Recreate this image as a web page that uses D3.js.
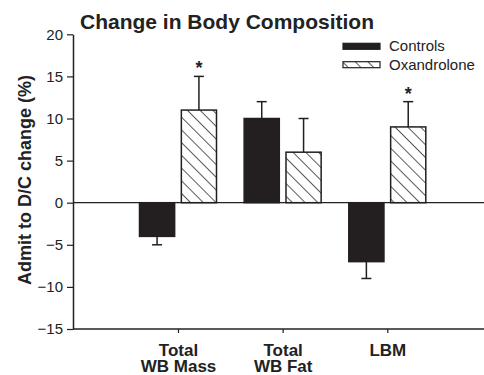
<!DOCTYPE html>
<html>
<head>
<meta charset="utf-8">
<script src="https://cdn.jsdelivr.net/npm/d3@7"></script>
<style>
  body { margin: 0; background: #fff; }
  svg { font-family: "Liberation Sans", Arial, sans-serif; }
</style>
</head>
<body>
<div id="chart"></div>
<script>
"use strict";

// data
const categories = ["Total WB Mass", "Total WB Fat", "LBM"];
const series = ["Controls", "Oxandrolone"];
const controls = [-4, 10, -7];
const controlsErr = [1, 2, 2];
const oxandrolone = [11, 6, 9];
const oxandroloneErr = [4, 4, 3];
const significant = [false, true, false, false, false, true]; // per bar, category-major
const yTicks = [-15, -10, -5, 0, 5, 10, 15, 20];

const width = 484, height = 375;
const fontFamily = "'Liberation Sans', Arial, sans-serif";

const svg = d3.select("#chart").append("svg")
  .attr("width", width)
  .attr("height", height);

// hatch pattern for Oxandrolone bars
let defs = svg.append("defs");
let pat = defs.append("pattern")
  .attr("id", "hatch")
  .attr("patternUnits", "userSpaceOnUse")
  .attr("width", 9)
  .attr("height", 9)
  .attr("patternTransform", "rotate(-45)");
pat.append("rect").attr("width", 9).attr("height", 9).attr("fill", "#fff");
pat.append("line")
  .attr("x1", 0).attr("y1", 0).attr("x2", 0).attr("y2", 9)
  .attr("stroke", "#222").attr("stroke-width", 1.5);

let y = d3.scaleLinear().domain([-15, 20]).range([329, 34.3]);
let x = d3.scalePoint().domain(categories).range([178, 387.3]);
let xSub = d3.scaleBand().domain(series).range([-38.5, 38.5]).paddingInner(0.16);

let left = 73;

// y axis
let yAxis = svg.append("g")
  .attr("transform", "translate(" + left + ",0)")
  .call(d3.axisLeft(y).tickValues(yTicks).tickSize(6).tickPadding(4).tickSizeOuter(0))
  .attr("font-family", fontFamily)
  .attr("font-size", 15);
yAxis.select(".domain").attr("stroke", "#222").attr("stroke-width", 1.5);
yAxis.selectAll(".tick line").attr("stroke", "#222").attr("stroke-width", 1.2);
yAxis.selectAll(".tick text").attr("fill", "#222");

// bottom axis line with category ticks
let xAxis = svg.append("g")
  .attr("transform", "translate(0,329)")
  .call(d3.axisBottom(x).tickSize(4).tickSizeOuter(0).tickFormat(""))
  .attr("font-family", fontFamily);
xAxis.select(".domain").attr("d", "M" + left + ",0H" + width)
  .attr("stroke", "#222").attr("stroke-width", 1.5);
xAxis.selectAll(".tick line").attr("stroke", "#222").attr("stroke-width", 1.2);

// two-line category labels
xAxis.selectAll(".tick").each(function(d) {
  let words = d.split(" ");
  let lines = words.length > 1 ? [words[0], words.slice(1).join(" ")] : [d];
  let t = d3.select(this).select("text")
    .attr("font-size", "17px")
    .attr("font-weight", "bold")
    .attr("fill", "#222")
    .attr("y", 0)
    .attr("dy", null);
  t.selectAll("tspan").data(lines).enter().append("tspan")
    .attr("x", 0)
    .attr("y", (l, i) => 26.5 + i * 16.5)
    .text(l => l);
});

// zero line
svg.append("line")
  .attr("x1", left).attr("x2", width)
  .attr("y1", y(0)).attr("y2", y(0))
  .attr("stroke", "#222").attr("stroke-width", 1.3);

// bars
let bars = [];
categories.forEach((c, i) => {
  bars.push({ cat: c, s: "Controls", v: controls[i], e: controlsErr[i] });
  bars.push({ cat: c, s: "Oxandrolone", v: oxandrolone[i], e: oxandroloneErr[i] });
});
bars.forEach((b, i) => { b.sig = significant[i]; });

let barG = svg.append("g");
barG.selectAll("rect")
  .data(bars)
  .enter().append("rect")
  .attr("x", d => x(d.cat) + xSub(d.s))
  .attr("width", xSub.bandwidth())
  .attr("y", d => y(Math.max(0, d.v)))
  .attr("height", d => Math.abs(y(d.v) - y(0)))
  .attr("fill", d => d.s === "Controls" ? "#231f20" : "url(#hatch)")
  .attr("stroke", "#231f20")
  .attr("stroke-width", 1.5);

// error bars (outward direction only)
let errG = svg.append("g").attr("stroke", "#231f20").attr("stroke-width", 1.5);
bars.forEach(d => {
  let cx = x(d.cat) + xSub(d.s) + xSub.bandwidth() / 2;
  let end = d.v >= 0 ? d.v + d.e : d.v - d.e;
  errG.append("line")
    .attr("x1", cx).attr("x2", cx)
    .attr("y1", y(d.v)).attr("y2", y(end));
  errG.append("line")
    .attr("x1", cx - 5).attr("x2", cx + 5)
    .attr("y1", y(end)).attr("y2", y(end));
});

// significance stars
svg.append("g").selectAll("text")
  .data(bars.filter(d => d.sig))
  .enter().append("text")
  .attr("x", d => x(d.cat) + xSub(d.s) + xSub.bandwidth() / 2)
  .attr("y", d => y(d.v + d.e) - 2)
  .attr("text-anchor", "middle")
  .attr("font-size", "18px")
  .attr("font-weight", "bold")
  .attr("fill", "#222")
  .text("*");

// title
svg.append("text")
  .attr("x", 80)
  .attr("y", 29)
  .attr("font-size", "21px")
  .attr("font-weight", "bold")
  .attr("fill", "#222")
  .text("Change in Body Composition");

// y label
svg.append("text")
  .attr("transform", "translate(31,180) rotate(-90)")
  .attr("text-anchor", "middle")
  .attr("font-size", "18px")
  .attr("font-weight", "bold")
  .attr("fill", "#222")
  .text("Admit to D/C change (%)");

// legend
let legend = svg.append("g");
series.forEach((s, i) => {
  let ly = 43.3 + i * 18.4;
  legend.append("rect")
    .attr("x", 343).attr("y", ly)
    .attr("width", 37).attr("height", 6)
    .attr("fill", s === "Controls" ? "#231f20" : "url(#hatch)")
    .attr("stroke", "#231f20")
    .attr("stroke-width", 1.2);
  legend.append("text")
    .attr("x", 389).attr("y", ly + 8)
    .attr("font-size", "15px")
    .attr("fill", "#222")
    .text(s);
});
</script>
</body>
</html>
